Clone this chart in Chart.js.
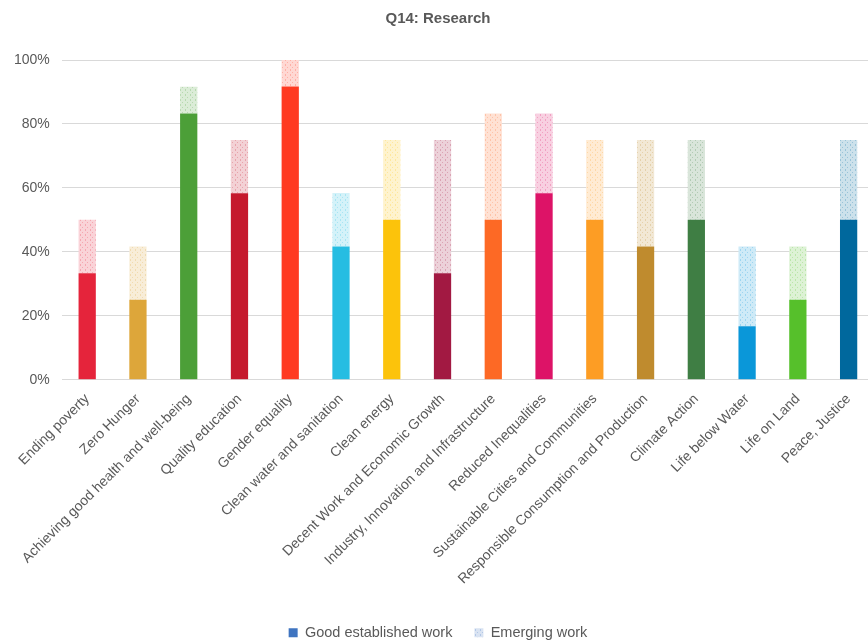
<!DOCTYPE html>
<html>
<head>
<meta charset="utf-8">
<script src="https://cdn.jsdelivr.net/npm/chart.js@4"></script>
<style>
html,body{margin:0;padding:0;background:#fff;overflow:hidden;}
#wrap{width:874px;height:642px;}
</style>
</head>
<body>
<div id="wrap"><canvas id="c" width="874" height="642"></canvas></div>
<script>
const categories = ["Ending poverty","Zero Hunger","Achieving good health and well-being","Quality education","Gender equality","Clean water and sanitation","Clean energy","Decent Work and Economic Growth","Industry, Innovation and Infrastructure","Reduced Inequalities","Sustainable Cities and Communities","Responsible Consumption and Production","Climate Action","Life below Water","Life on Land","Peace, Justice"];
const goodWork = [33.3,25,83.3,58.3,91.7,41.7,50,33.3,50,58.3,50,41.7,50,16.7,25,50];
const emergingWork = [16.7,16.7,8.3,16.7,8.3,16.7,25,41.7,33.3,25,25,33.3,25,25,16.7,25];
const barColors = ["#E5243B","#DDA63A","#4C9F38","#C5192D","#FF3A21","#26BDE2","#FCC30B","#A21942","#FD6925","#DD1367","#FD9D24","#BF8B2E","#3F7E44","#0A97D9","#56C02B","#00689D"];
const yTicks = [0,20,40,60,80,100];
const seriesNames = ["Good established work","Emerging work"];
const legendColor = "#3F74C0";

function mix(hex, w){
  const r=parseInt(hex.slice(1,3),16),g=parseInt(hex.slice(3,5),16),b=parseInt(hex.slice(5,7),16);
  const f=v=>Math.round(v+(255-v)*w);
  return `rgb(${f(r)},${f(g)},${f(b)})`;
}
const ctx = document.getElementById('c').getContext('2d');
function makePattern(hex){
  const c=document.createElement('canvas'); c.width=5; c.height=5;
  const x=c.getContext('2d');
  x.fillStyle=mix(hex,0.8); x.fillRect(0,0,5,5);
  x.fillStyle=mix(hex,0.6);
  x.fillRect(0,0,1,1); x.fillRect(2,2,1,1); x.fillRect(0,4,1,1);
  return ctx.createPattern(c,'repeat');
}
const patterns = barColors.map(makePattern);
const legendPattern = makePattern(legendColor);

new Chart(ctx,{
  type:'bar',
  data:{
    labels:categories,
    datasets:[
      {label:seriesNames[0],data:goodWork,backgroundColor:barColors,categoryPercentage:1,barPercentage:0.34},
      {label:seriesNames[1],data:emergingWork,backgroundColor:patterns,categoryPercentage:1,barPercentage:0.34}
    ]
  },
  options:{
    responsive:false,
    animation:false,
    layout:{padding:{left:2,right:0,top:4,bottom:-8}},
    plugins:{
      title:{display:true,text:'Q14: Research',color:'#595959',font:{family:'Liberation Sans',size:15,weight:'bold'},padding:{top:6,bottom:32}},
      legend:{
        position:'bottom',
        labels:{
          color:'#595959',font:{family:'Liberation Sans',size:14.5},boxWidth:9,boxHeight:9,padding:22,
          generateLabels:()=>[
            {text:seriesNames[0],fillStyle:legendColor,strokeStyle:legendColor,lineWidth:0,datasetIndex:0,fontColor:'#595959'},
            {text:seriesNames[1],fillStyle:legendPattern,strokeStyle:mix(legendColor,0.7),lineWidth:0,datasetIndex:1,fontColor:'#595959'}
          ]
        }
      },
      tooltip:{enabled:false}
    },
    scales:{
      x:{
        stacked:true,
        grid:{display:false},
        border:{display:false},
        ticks:{color:'#595959',font:{family:'Liberation Sans',size:14},minRotation:45,maxRotation:45,autoSkip:false,padding:3},
        afterFit:(s)=>{s.height+=13;}
      },
      y:{
        stacked:true,min:0,max:100,
        afterBuildTicks:(s)=>{s.ticks=yTicks.map(v=>({value:v}));},
        grid:{color:'#d9d9d9',drawTicks:false},
        border:{display:false},
        ticks:{color:'#595959',font:{family:'Liberation Sans',size:14},padding:12,callback:v=>v+'%'}
      }
    }
  }
});
</script>
</body>
</html>
